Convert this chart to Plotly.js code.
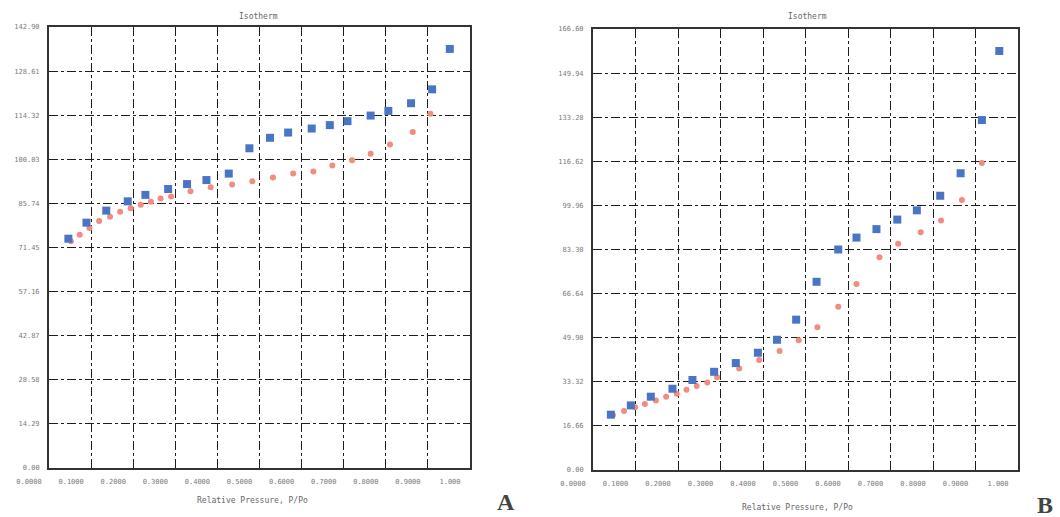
<!DOCTYPE html>
<html>
<head>
<meta charset="utf-8">
<script src="https://cdn.plot.ly/plotly-3.0.1.min.js"></script>
<style>html,body{margin:0;padding:0;background:#fff;}#chart{width:1060px;height:517px;}</style>
</head>
<body>
<div id="chart"></div>
<script>
// ---- Data ----
const xTickVals = [0, 0.1, 0.2, 0.3, 0.4, 0.5, 0.6, 0.7, 0.8, 0.9, 1.0];
const xTickText = ["0.0000","0.1000","0.2000","0.3000","0.4000","0.5000","0.6000","0.7000","0.8000","0.9000","1.000"];

const yTickValsA = [0, 14.29, 28.58, 42.87, 57.16, 71.45, 85.74, 100.03, 114.32, 128.61, 142.90];
const yTickTextA = ["0.00","14.29","28.58","42.87","57.16","71.45","85.74","100.03","114.32","128.61","142.90"];
const yTickValsB = [0, 16.66, 33.32, 49.98, 66.64, 83.30, 99.96, 116.62, 133.28, 149.94, 166.60];
const yTickTextB = ["0.00","16.66","33.32","49.98","66.64","83.30","99.96","116.62","133.28","149.94","166.60"];

// Chart A
const aBlueX = [0.046,0.089,0.136,0.187,0.229,0.283,0.328,0.374,0.427,0.476,0.525,0.568,0.624,0.667,0.709,0.764,0.806,0.860,0.910,0.952];
const aBlueY = [74.3,79.5,83.4,86.4,88.5,90.4,92.0,93.3,95.4,103.6,107.0,108.7,110.0,111.1,112.4,114.2,115.7,118.2,122.7,135.8];
const aRedX  = [0.052,0.073,0.096,0.119,0.145,0.169,0.194,0.218,0.242,0.265,0.290,0.336,0.384,0.435,0.483,0.532,0.580,0.628,0.673,0.720,0.764,0.810,0.864,0.906];
const aRedY  = [73.5,75.6,77.8,80.0,81.4,83.0,84.2,85.3,86.3,87.3,88.0,89.7,91.0,91.9,92.9,94.1,95.4,96.1,98.0,99.7,101.8,104.8,108.9,114.8];

// Chart B
const bBlueX = [0.042,0.089,0.136,0.187,0.234,0.285,0.336,0.388,0.433,0.478,0.526,0.577,0.620,0.667,0.716,0.762,0.817,0.865,0.915,0.956];
const bBlueY = [20.9,24.4,27.7,30.7,34.0,37.1,40.4,44.3,49.2,56.8,71.1,83.3,87.8,91.0,94.6,98.1,103.6,112.1,132.2,158.3];
const bRedX  = [0.047,0.073,0.099,0.122,0.148,0.172,0.197,0.220,0.244,0.269,0.292,0.344,0.391,0.439,0.484,0.528,0.577,0.620,0.674,0.718,0.771,0.819,0.868,0.915];
const bRedY  = [20.8,22.3,23.7,24.9,26.3,27.7,28.8,30.3,31.7,33.1,35.0,38.3,41.6,45.0,49.0,53.9,61.7,70.3,80.4,85.5,89.8,94.3,102.0,116.0];

const chartTitle = "Isotherm";
const xTitle = "Relative Pressure, P/Po";
const panelLabels = ["A", "B"];

// ---- Styles ----
const blue = "#4a74c4";
const red = "#f28b80";
const tickFont = {family: "DejaVu Sans Mono", size: 7, color: "#7a7a7a"};

function blueTrace(x, y, xa, ya) {
  return {x, y, xaxis: xa, yaxis: ya, type: "scatter", mode: "markers",
    marker: {symbol: "square", size: 8, color: blue}, showlegend: false, hoverinfo: "skip"};
}
function redTrace(x, y, xa, ya) {
  return {x, y, xaxis: xa, yaxis: ya, type: "scatter", mode: "markers",
    marker: {symbol: "circle", size: 6, color: red}, showlegend: false, hoverinfo: "skip"};
}

const data = [
  redTrace(aRedX, aRedY, "x", "y"),
  blueTrace(aBlueX, aBlueY, "x", "y"),
  redTrace(bRedX, bRedY, "x2", "y2"),
  blueTrace(bBlueX, bBlueY, "x2", "y2")
];

function xAxis(domain, anchor) {
  return {domain, anchor, range: [0, 1], tickmode: "array", tickvals: xTickVals, ticktext: xTickText,
    showgrid: true, gridcolor: "#1e1e1e", griddash: "dashdot", gridwidth: 1,
    showline: true, mirror: true, linecolor: "#333", linewidth: 2, zeroline: false,
    ticks: "", tickfont: tickFont, ticklabelshift: -20, ticklabelstandoff: 6, fixedrange: true};
}
function yAxis(domain, anchor, vals, text) {
  return {domain, anchor, range: [0, vals[vals.length - 1]], tickmode: "array", tickvals: vals, ticktext: text,
    showgrid: true, gridcolor: "#1e1e1e", griddash: "dashdot", gridwidth: 1,
    showline: true, mirror: true, linecolor: "#333", linewidth: 2, zeroline: false,
    ticks: "", tickfont: tickFont, ticklabelstandoff: 6, fixedrange: true};
}

const W = 1060, H = 517;
const layout = {
  width: W, height: H,
  margin: {l: 0, r: 0, t: 0, b: 0},
  paper_bgcolor: "#ffffff", plot_bgcolor: "#ffffff",
  showlegend: false,
  xaxis: xAxis([49 / W, 470 / W], "y"),
  yaxis: yAxis([1 - 468 / H, 1 - 27 / H], "x", yTickValsA, yTickTextA),
  xaxis2: xAxis([593 / W, 1018 / W], "y2"),
  yaxis2: yAxis([1 - 470 / H, 1 - 29 / H], "x2", yTickValsB, yTickTextB),
  annotations: [
    {text: chartTitle, xref: "paper", yref: "paper", x: 258 / W, y: 1 - 17 / H, showarrow: false,
     font: {family: "DejaVu Sans Mono", size: 8, color: "#666"}, xanchor: "center", yanchor: "middle"},
    {text: chartTitle, xref: "paper", yref: "paper", x: 807 / W, y: 1 - 17 / H, showarrow: false,
     font: {family: "DejaVu Sans Mono", size: 8, color: "#666"}, xanchor: "center", yanchor: "middle"},
    {text: xTitle, xref: "paper", yref: "paper", x: 252 / W, y: 1 - 500 / H, showarrow: false,
     font: {family: "DejaVu Sans Mono", size: 8, color: "#666"}, xanchor: "center", yanchor: "middle"},
    {text: xTitle, xref: "paper", yref: "paper", x: 797 / W, y: 1 - 507 / H, showarrow: false,
     font: {family: "DejaVu Sans Mono", size: 8, color: "#666"}, xanchor: "center", yanchor: "middle"},
    {text: "<b>" + panelLabels[0] + "</b>", xref: "paper", yref: "paper", x: 506 / W, y: 1 - 502 / H, showarrow: false,
     font: {family: "Liberation Serif", size: 24, color: "#444"}, xanchor: "center", yanchor: "middle"},
    {text: "<b>" + panelLabels[1] + "</b>", xref: "paper", yref: "paper", x: 1045 / W, y: 1 - 505 / H, showarrow: false,
     font: {family: "Liberation Serif", size: 24, color: "#444"}, xanchor: "center", yanchor: "middle"}
  ]
};

Plotly.newPlot("chart", data, layout, {staticPlot: true, displayModeBar: false});
</script>
</body>
</html>
